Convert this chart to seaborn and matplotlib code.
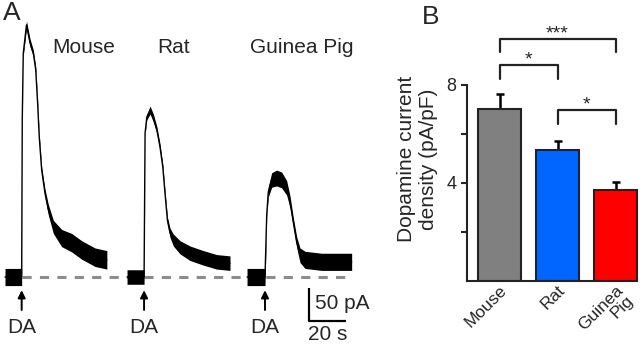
import numpy as np
import pandas as pd
import seaborn as sns
import matplotlib.pyplot as plt

# ---- panel A: whole-cell current traces (time from DA application, s; current, pA)
mouse_t = [-9.0, 0, 0.32, 0.86, 2.6, 4.5, 6.3, 7.6, 8.6, 9.5, 10.8, 12.6, 14.4, 17.1,
           21.6, 27.0, 32.4, 39.6, 46.0]
mouse_i = [0, 0, 238, 339, 382, 355, 339, 314, 264, 212, 162, 127, 102, 76,
           59, 52, 41, 30, 26]
mouse_noise = [13, 13, 2, 4, 6, 6, 5, 4, 4, 4, 5, 6, 8, 10, 13, 14, 14, 14, 14]

rat_t = [-9.2, 0, 0.54, 1.46, 3.24, 5.0, 6.9, 8.6, 10.1, 11.3, 12.6, 14.0, 15.8, 19.4,
         24.8, 32.0, 39.2, 46.4]
rat_i = [0, 0, 218, 242, 253, 241, 223, 197, 167, 127, 86, 67, 56, 45,
         36, 29, 23, 21]
rat_noise = [11, 11, 2, 4, 6, 6, 5, 5, 4, 4, 5, 7, 9, 10, 11, 11, 11, 11]

gp_t = [-9.7, 0, 0.92, 1.78, 3.6, 6.3, 9.0, 11.7, 13.5, 15.3, 17.1, 18.9, 21.6, 30.6, 46.8]
gp_i = [0, 0, 94, 129, 147, 150, 147, 135, 114, 83, 53, 33, 26, 23, 23]
gp_noise = [13, 13, 3, 8, 11, 12, 12, 11, 9, 7, 8, 11, 13, 13, 13]

species = ["Mouse", "Rat", "Guinea Pig"]
da_onset = [11.7, 77.8, 143.1]      # DA application on the shared time axis (s)
title_x = [45.4, 93.7, 162.8]

# ---- panel B: current density
groups = ["Mouse", "Rat", "Guinea\nPig"]
density = [7.0, 5.32, 3.72]
density_sem = [0.6, 0.40, 0.32]
bar_colors = ["#808080", "#0066ff", "#ff0000"]
# (left bar, right bar, label)
comparisons = [(0, 2, "***"), (0, 1, "*"), (1, 2, "*")]
bracket_top = [9.88, 8.8, 6.96]

sns.set_theme(style="ticks")
plt.rcParams["font.family"] = ["Liberation Sans", "DejaVu Sans"]
plt.rcParams["font.size"] = 14

fig = plt.figure(figsize=(6.4, 3.44), dpi=100)

# ---------------- panel A
ax = fig.add_axes([0, 0, 400 / 640, 1])
ax.set_xlim(0, 216)
ax.set_ylim(-101.5, 419.7)
ax.axis("off")

ax.plot([da_onset[0], 189], [0, 0], color="#8c8c8c", lw=2.2, ls=(0, (3, 2.7)), zorder=0)

traces = [(mouse_t, mouse_i, mouse_noise), (rat_t, rat_i, rat_noise), (gp_t, gp_i, gp_noise)]
for (t, cur, nz), t0, name, tx in zip(traces, da_onset, species, title_x):
    t = np.array(t) + t0
    cur = np.array(cur, dtype=float)
    nz = np.array(nz, dtype=float)
    ax.fill_between(t, cur - nz, cur + nz, color="black", lw=0)
    ax.plot(t, cur, color="black", lw=1)
    ax.annotate("", xy=(t0, -20), xytext=(t0, -50),
                arrowprops=dict(arrowstyle="-|>", lw=1.4, color="black",
                                mutation_scale=11, shrinkA=0, shrinkB=0))
    ax.text(t0, -76, "DA", ha="center", va="center", fontsize=15)
    ax.text(tx, 348, name, ha="center", va="center", fontsize=15)

# scale bar: 50 pA, 20 s
ax.plot([166.9, 166.9, 186.9], [-16.7, -66.7, -66.7], color="black", lw=1.6,
        solid_capstyle="butt")
ax.text(170.1, -39.4, "50 pA", ha="left", va="center", fontsize=15)
ax.text(177.0, -87, "20 s", ha="center", va="center", fontsize=15)

fig.text(12 / 640, 1 - 13 / 344, "A", ha="center", va="center", fontsize=19)
fig.text(431 / 640, 1 - 17 / 344, "B", ha="center", va="center", fontsize=19)

# ---------------- panel B
axb = fig.add_axes([467 / 640, 63 / 344, 173 / 640, 254 / 344])
df = pd.DataFrame({"group": groups, "density": density})
sns.barplot(data=df, x="group", y="density", hue="group", palette=bar_colors,
            saturation=1, width=0.74, edgecolor="#222222", linewidth=1.5,
            errorbar=None, legend=False, ax=axb)
axb.errorbar(range(3), density, yerr=[np.zeros(3), density_sem], fmt="none",
             ecolor="black", elinewidth=1.8, capsize=3, capthick=1.8, zorder=0)

axb.set_xlim(-0.56, 2.42)
axb.set_ylim(0, 10.35)
axb.set_yticks([2, 4, 6, 8])
axb.set_yticklabels(["", "4", "", "8"])
axb.spines["top"].set_visible(False)
axb.spines["right"].set_visible(False)
axb.spines["left"].set_bounds(0, 8)
axb.spines["bottom"].set_bounds(-0.56, 2.37)
for s in ("left", "bottom"):
    axb.spines[s].set_linewidth(1.5)
    axb.spines[s].set_color("#222222")
axb.tick_params(axis="y", length=4, width=1.5, labelsize=13, pad=3.5)
axb.tick_params(axis="x", length=0, labelsize=12.5, pad=1)
plt.setp(axb.get_xticklabels(), rotation=45, ha="right", rotation_mode="anchor",
         linespacing=0.95)
axb.set_xlabel("")
axb.set_ylabel("Dopamine current\ndensity (pA/pF)", fontsize=15)
axb.yaxis.set_label_coords(-0.168, 0.48)

for (a, b, lab), top in zip(comparisons, bracket_top):
    axb.plot([a, a, b, b], [top - 0.56, top, top, top - 0.56], color="#222222",
             lw=1.6, clip_on=False)
    axb.text((a + b) / 2, top - 0.15, lab, ha="center", va="bottom", fontsize=14)

fig.savefig("out.png", dpi=100)
